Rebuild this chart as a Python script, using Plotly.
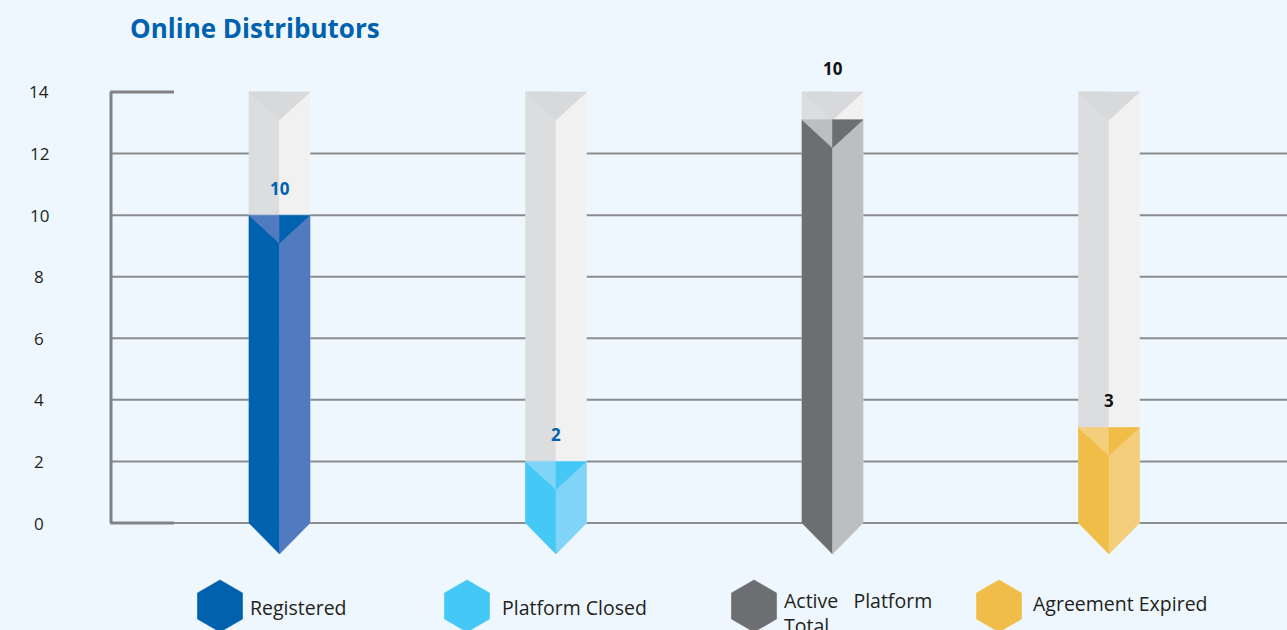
import plotly.graph_objects as go
import math

# ---------------- data ----------------
categories = ["Registered", "Platform Closed", "Active   Platform<br>Total", "Agreement Expired"]
values = [10, 2, 13.1, 3.1]
value_labels = ["10", "2", "10", "3"]
label_colors = ["#0061AF", "#0061AF", "#111111", "#111111"]
left_colors = ["#0061AF", "#44C8F5", "#6D6E71", "#F0BD48"]
right_colors = ["#507BC0", "#80D4F7", "#BDBEC0", "#F4CE7A"]
y_ticks = [0, 2, 4, 6, 8, 10, 12, 14]
y_tick_labels = ["0", "2", "4", "6", "8", "10", "12", "14"]
y_max = 14
title_text = "Online Distributors"

# ---------------- layout constants ----------------
W, H = 1287, 630
BG = "#EEF7FD"
px_per_x = 276.5
px_per_y = 431 / 14.0
plot_left_px, plot_right_px = 100, W
plot_top_px, plot_bot_px = 50, 565
zero_px_y = 523
first_center_px = 279.5
x0 = -(first_center_px - plot_left_px) / px_per_x
x1 = (plot_right_px - first_center_px) / px_per_x
y_top = (zero_px_y - plot_top_px) / px_per_y
y_bot = (zero_px_y - plot_bot_px) / px_per_y
hw = 30.5 / px_per_x          # half-width of a column
dv = 28 / px_per_y            # depth of top chevron
tip = 31 / px_per_y           # depth of bottom arrow
axis_x = x0 + 11 / px_per_x   # bracket position
stub_x = axis_x + 63 / px_per_x

fig = go.Figure()

def poly(xs, ys, color, xaxis="x", yaxis="y"):
    fig.add_trace(go.Scatter(
        x=xs + [xs[0]], y=ys + [ys[0]], mode="lines", fill="toself",
        fillcolor=color, line=dict(color=color, width=0.6),
        hoverinfo="skip", showlegend=False, xaxis=xaxis, yaxis=yaxis))

for i, v in enumerate(values):
    c = i
    # background column
    poly([c - hw, c - hw, c, c], [0, y_max, y_max, 0], "#DCDDDF")
    poly([c, c, c + hw, c + hw], [0, y_max, y_max, 0], "#F1F1F2")
    poly([c - hw, c + hw, c], [y_max, y_max, y_max - dv], "#D8D9DB")
    # coloured column
    L, R = left_colors[i], right_colors[i]
    poly([c - hw, c - hw, c, c], [0, v, v - dv, -tip], L)
    poly([c, c, c + hw, c + hw], [-tip, v - dv, v, 0], R)
    poly([c - hw, c, c], [v, v, v - dv], R)
    poly([c, c + hw, c], [v, v, v - dv], L)

shapes = []
# gridlines
for t in y_ticks:
    if t < y_max:
        shapes.append(dict(type="line", xref="x", yref="y", x0=axis_x, x1=x1 + 1,
                           y0=t, y1=t, line=dict(color="#8A8D90", width=2), layer="below"))
# bracket
br = dict(color="#808285", width=3)
shapes.append(dict(type="line", xref="x", yref="y", x0=axis_x, x1=axis_x, y0=0, y1=y_max, line=br))
shapes.append(dict(type="line", xref="x", yref="y", x0=axis_x - 0.003, x1=stub_x, y0=y_max, y1=y_max, line=br))
shapes.append(dict(type="line", xref="x", yref="y", x0=axis_x - 0.003, x1=stub_x, y0=0, y1=0, line=br))

annotations = []
# value labels
for i, v in enumerate(values):
    ly = v + 27 / px_per_y if v + 1.5 < y_max else y_max + 23 / px_per_y
    annotations.append(dict(x=i, y=ly, xref="x", yref="y", text="<b>%s</b>" % value_labels[i],
                            showarrow=False, font=dict(size=17, color=label_colors[i], family="Open Sans")))
# tick labels
for t, lab in zip(y_ticks, y_tick_labels):
    annotations.append(dict(x=39 / W, y=t, xref="paper", yref="y", text=lab, showarrow=False,
                            xanchor="center", font=dict(size=17, color="#231F20", family="Open Sans")))
# title
annotations.append(dict(x=128 / W, y=1 - 28 / H, xref="paper", yref="paper", text="<b>%s</b>" % title_text,
                        showarrow=False, xanchor="left", yanchor="middle",
                        font=dict(size=26, color="#0061AF", family="Open Sans")))
# legend
leg_cx = [220, 467, 754, 999]
leg_tx = [248, 500, 782, 1031]
leg_ty = [607, 607, 613, 603]
for i, name in enumerate(categories):
    cx, cy, r = leg_cx[i], 606, 26
    xs = [cx + r * math.cos(math.radians(90 + 60 * k)) for k in range(6)]
    ys = [cy + r * math.sin(math.radians(90 + 60 * k)) for k in range(6)]
    poly(xs, ys, left_colors[i], xaxis="x2", yaxis="y2")
    annotations.append(dict(x=leg_tx[i] / W, y=1 - leg_ty[i] / H, xref="paper", yref="paper", text=name,
                            showarrow=False, xanchor="left", yanchor="middle", align="left",
                            font=dict(size=19.5, color="#231F20", family="Open Sans")))
annotations.append(dict(x=10 / W, y=1 - 638 / H, xref="paper", yref="paper", text="Graph 3",
                        showarrow=False, xanchor="left", yanchor="middle",
                        font=dict(size=18, color="#231F20", family="Open Sans")))

hidden = dict(showgrid=False, zeroline=False, showticklabels=False, showline=False, ticks="", fixedrange=True)
fig.update_layout(
    width=W, height=H, margin=dict(l=0, r=0, t=0, b=0),
    paper_bgcolor=BG, plot_bgcolor="rgba(0,0,0,0)",
    xaxis=dict(domain=[plot_left_px / W, 1], range=[x0, x1], **hidden),
    yaxis=dict(domain=[1 - plot_bot_px / H, 1 - plot_top_px / H], range=[y_bot, y_top], **hidden),
    xaxis2=dict(domain=[0, 1], range=[0, W], anchor="y2", **hidden),
    yaxis2=dict(domain=[0, 1], range=[H, 0], anchor="x2", **hidden),
    shapes=shapes, annotations=annotations, showlegend=False,
)
fig.write_html("out.html")
